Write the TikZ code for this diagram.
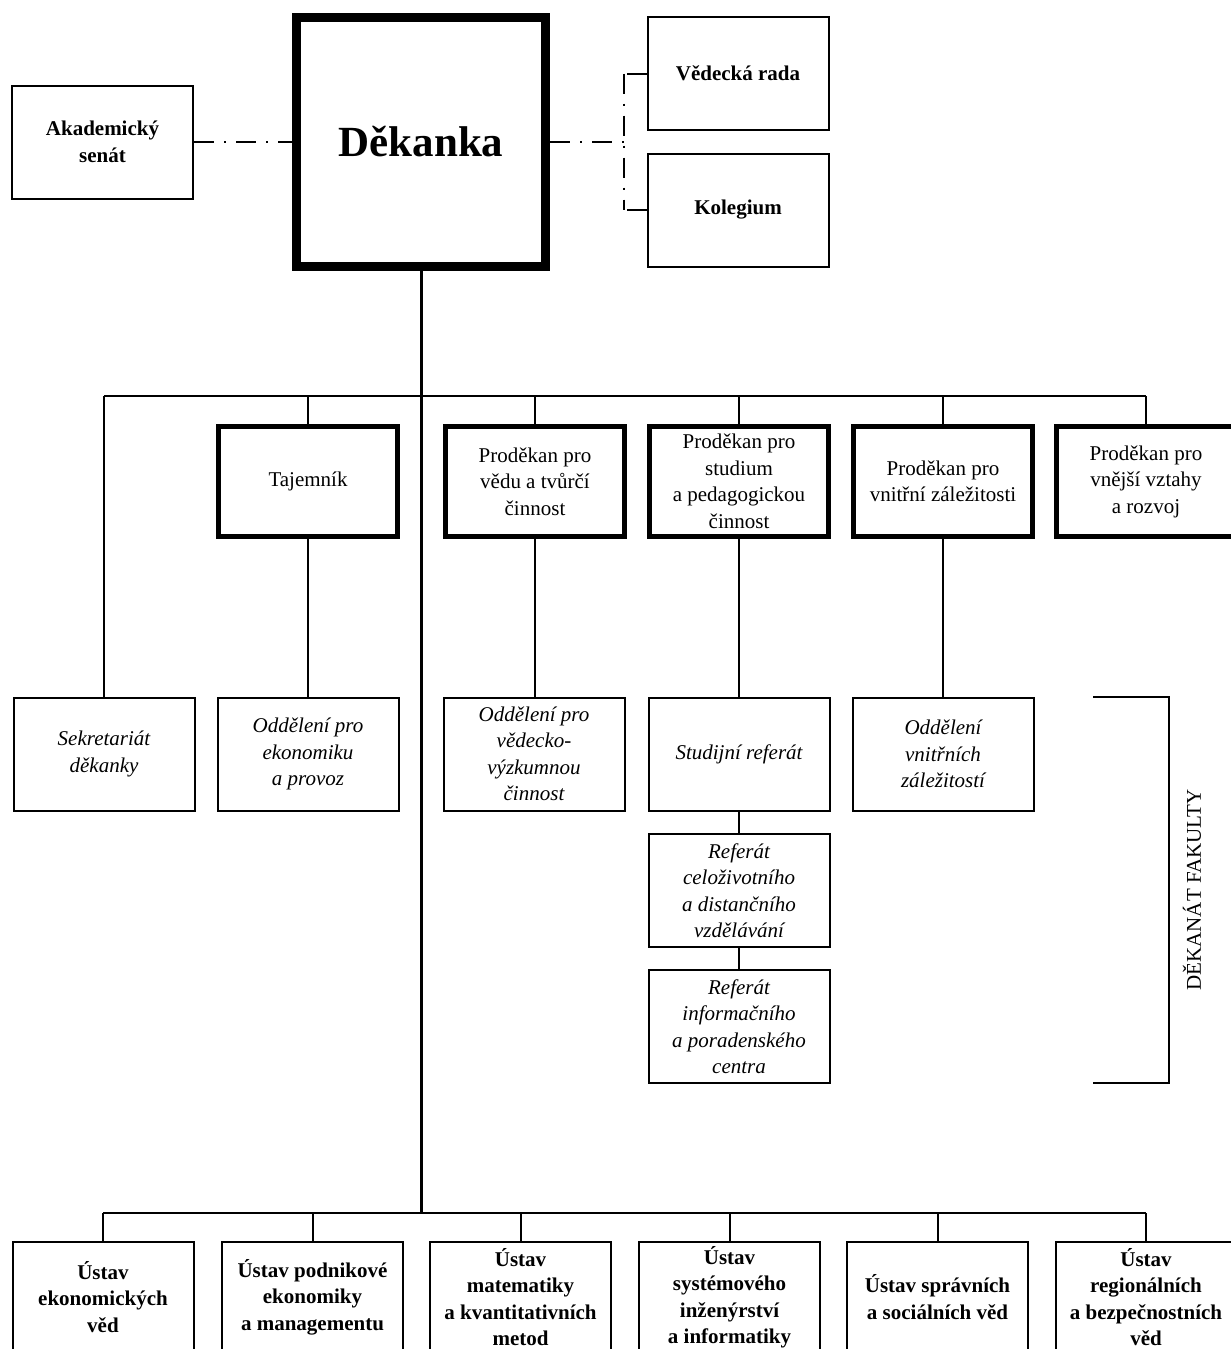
\documentclass[tikz,border=0pt]{standalone}
\usepackage{fontspec}
\setmainfont{Liberation Serif}
\usetikzlibrary{calc}

\begin{document}
\begin{tikzpicture}[x=1pt,y=-1pt,
	box/.style={draw, line width=2pt, rectangle, inner sep=0pt, align=center, minimum width=181pt, minimum height=113pt, font=\fontsize{21}{26.5}\selectfont},
	headbox/.style={box, line width=5pt, minimum width=179pt, minimum height=110pt},
	deptbox/.style={box, font=\fontsize{21}{26.5}\selectfont\itshape},
	instbox/.style={box, minimum height=110pt, font=\fontsize{21}{26.5}\selectfont\bfseries},
	link/.style={line width=2pt},
	dashdot/.style={line width=2.5pt, dash pattern=on 20pt off 10pt on 2pt off 10pt}]
			\useasboundingbox (0,0) rectangle (1231,1349);
			\node[box, font=\fontsize{21}{26.5}\selectfont\bfseries] (senat) at (102.5,142) {Akademický\\senát};
			\node[box, line width=9pt, minimum width=249pt, minimum height=249pt, font=\fontsize{43}{50}\selectfont\bfseries] (dekanka) at (421,142) {Děkanka};
			\node[box, font=\fontsize{21}{26.5}\selectfont\bfseries] (vedecka) at (738,73.5) {Vědecká rada};
			\node[box, font=\fontsize{21}{26.5}\selectfont\bfseries] (kolegium) at (738,210) {Kolegium};
			\draw[dashdot] (senat.east) -- (dekanka.west);
			\coordinate (rbranch) at (624,142);
			\draw[dashdot] (dekanka.east) -- (rbranch);
			\draw[dashdot] (rbranch |- vedecka.west) -- (rbranch |- kolegium.west);
			\draw[link] ($(rbranch |- vedecka.west)+(3,0)$) -- (vedecka.west);
			\draw[link] ($(rbranch |- kolegium.west)+(3,0)$) -- (kolegium.west);
			% vedeni fakulty
			\node[headbox] (tajemnik) at (308,481.5) {Tajemník};
			\node[headbox] (vedu) at (535,481.5) {Proděkan pro\\vědu a tvůrčí\\činnost};
			\node[headbox] (studium) at (739,481.5) {Proděkan pro\\studium\\a pedagogickou\\činnost};
			\node[headbox] (vnitrni) at (943,481.5) {Proděkan pro\\vnitřní záležitosti};
			\node[headbox] (vnejsi) at (1146,481.5) {Proděkan pro\\vnější vztahy\\a rozvoj};
			% dekanat
			\node[deptbox] (sekretariat) at (104,754) {Sekretariát\\děkanky};
			\node[deptbox] (ekonomiku) at (308,754) {Oddělení pro\\ekonomiku\\a provoz};
			\node[deptbox] (vyzkum) at (534,754) {Oddělení pro\\vědecko-\\výzkumnou\\činnost};
			\node[deptbox] (studref) at (739,754) {Studijní referát};
			\node[deptbox] (celoziv) at (739,890.5) {Referát\\celoživotního\\a distančního\\vzdělávání};
			\node[deptbox] (poradna) at (739,1026.5) {Referát\\informačního\\a poradenského\\centra};
			\node[deptbox] (zalezitosti) at (943,754) {Oddělení\\vnitřních\\záležitostí};
			\draw[line width=2pt] (1093,697) -- (1169,697) -- (1169,1083) -- (1093,1083);
			\node[rotate=90, font=\fontsize{21}{25}\selectfont] (dekanat) at (1192,890) {DĚKANÁT FAKULTY};
			% ustavy
			\node[instbox] (u1) at (103,1297) {Ústav\\ekonomických\\věd};
			\node[instbox] (u2) at (312.5,1297) {Ústav podnikové\\ekonomiky\\a managementu};
			\node[instbox] (u3) at (520.5,1297) {Ústav\\matematiky\\a kvantitativních\\metod};
			\node[instbox] (u4) at (729.5,1297) {Ústav\\systémového\\inženýrství\\a informatiky};
			\node[instbox] (u5) at (937.5,1297) {Ústav správních\\a sociálních věd};
			\node[instbox] (u6) at (1146,1297) {Ústav\\regionálních\\a bezpečnostních\\věd};
			% spojnice
			\coordinate (topbus) at (421,396);
			\coordinate (lowbus) at (421,1213);
			\draw[line width=3pt] (dekanka.south) -- (lowbus);
			\draw[link] (topbus -| sekretariat.north) -- (topbus -| vnejsi.north);
			\foreach \n in {sekretariat,tajemnik,vedu,studium,vnitrni,vnejsi}
				\draw[link] (topbus -| \n.north) -- (\n.north);
			\draw[link] (tajemnik.south) -- (tajemnik.south |- ekonomiku.north);
			\draw[link] (vedu.south) -- (vedu.south |- vyzkum.north);
			\draw[link] (studium.south) -- (studium.south |- studref.north);
			\draw[link] (vnitrni.south) -- (vnitrni.south |- zalezitosti.north);
			\draw[link] (studref.south) -- (celoziv.north);
			\draw[link] (celoziv.south) -- (poradna.north);
			\draw[link] (lowbus -| u1.north) -- (lowbus -| u6.north);
			\foreach \n in {u1,u2,u3,u4,u5,u6}
				\draw[link] (lowbus -| \n.north) -- (\n.north);
		\end{tikzpicture}
\end{document}
